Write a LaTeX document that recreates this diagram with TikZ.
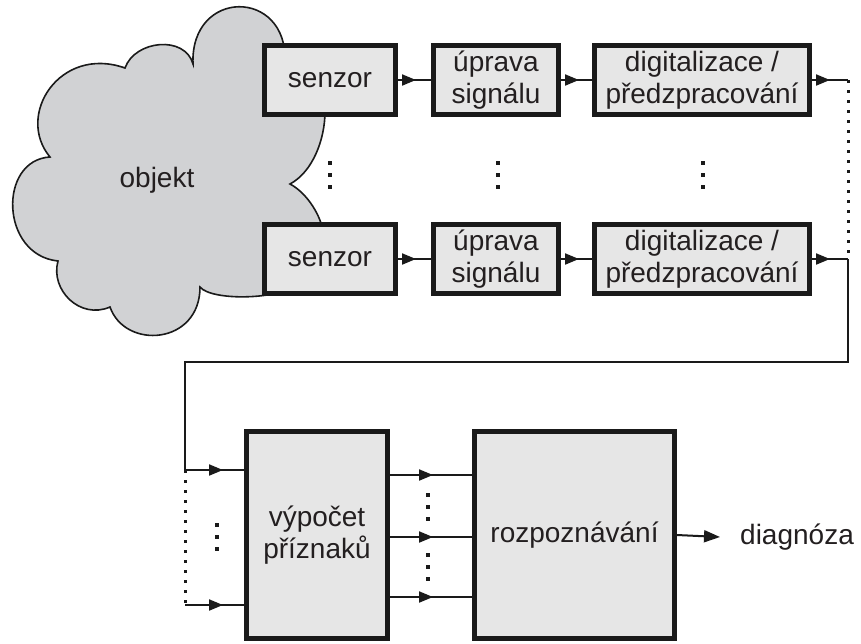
\documentclass[tikz,border=0pt]{standalone}
\usepackage{fontspec}
\setmainfont{Liberation Sans}
\usetikzlibrary{arrows.meta,decorations.markings}
\definecolor{boxfill}{HTML}{E6E6E6}
\definecolor{cloudfill}{HTML}{D1D2D4}
\definecolor{txt}{HTML}{231F20}
\definecolor{ink}{HTML}{1A1A1A}
\begin{document}
\begin{tikzpicture}[x=1pt,y=-1pt,
  blk/.style={draw=ink, line width=4.8pt, fill=boxfill, text=txt, align=center, inner sep=0pt,
    font=\fontsize{28}{32}\selectfont},
  lbl/.style={text=txt, inner sep=0pt, font=\fontsize{28}{32}\selectfont},
  wire/.style={line width=2pt, draw=ink},
  conn/.style={wire, postaction={decorate}, decoration={markings,
    mark=at position #1 with {\arrow{Triangle[length=14pt,width=11pt]}}}},
  dotline/.style={draw=ink, line width=3pt, dash pattern=on 3pt off 7pt},
  ellip/.style={draw=ink, line width=4pt, dash pattern=on 4pt off 8pt},
]
\useasboundingbox (0,0) rectangle (861,643);

% cloud
\filldraw[fill=cloudfill, draw=ink, line width=1.6pt]
  (193,64) .. controls (190,-12) and (288,-12) .. (285,62)
  .. controls (340,55) and (335,160) .. (290,184)
  .. controls (320,200) and (345,260) .. (300,280)
  .. controls (290,300) and (212,302) .. (200,287)
  .. controls (200,345) and (125,350) .. (110,307)
  .. controls (80,320) and (50,290) .. (58,261)
  .. controls (0,255) and (-2,160) .. (50,157)
  .. controls (15,115) and (60,45) .. (125,68)
  .. controls (135,40) and (185,35) .. (193,64) -- cycle;
\node[lbl] (obj) at (157,180) {objekt};

% top row
\node[blk, minimum width=131.2pt, minimum height=69.2pt] (s1) at (330,80) {senzor};
\node[blk, minimum width=125.2pt, minimum height=69.2pt] (u1) at (496,80) {úprava\\signálu};
\node[blk, minimum width=215.2pt, minimum height=69.2pt] (d1) at (702,80) {digitalizace /\\předzpracování};
% bottom row
\node[blk, minimum width=131.2pt, minimum height=69.2pt] (s2) at (330,259) {senzor};
\node[blk, minimum width=125.2pt, minimum height=69.2pt] (u2) at (496,259) {úprava\\signálu};
\node[blk, minimum width=215.2pt, minimum height=69.2pt] (d2) at (702,259) {digitalizace /\\předzpracování};

\draw[conn=18pt] (s1.east) -- (u1.west);
\draw[conn=18pt] (u1.east) -- (d1.west);
\draw[conn=18pt] (s2.east) -- (u2.west);
\draw[conn=18pt] (u2.east) -- (d2.west);

\draw[ellip] (330,161) -- (330,191);
\draw[ellip] (498,161) -- (498,191);
\draw[ellip] (703,161) -- (703,191);

% right side and return line
\coordinate (r1) at (848,80);
\coordinate (r2) at (848,259);
\coordinate (k1) at (848,362);
\coordinate (k2) at (185,362);
\coordinate (in1) at (185,470);
\coordinate (in2) at (185,605);
\draw[conn=18pt] (d1.east) -- (r1);
\draw[conn=18pt] (d2.east) -- (r2);
\draw[dotline] (r1) -- (r2);
\draw[wire] (r2) -- (k1) -- (k2) -- (in1);
\draw[dotline] (in1) -- (in2);

% bottom blocks
\node[blk, minimum width=141.2pt, minimum height=207.2pt] (v) at (317,535) {výpočet\\příznaků};
\node[blk, minimum width=200.2pt, minimum height=207.2pt] (rz) at (574.5,535) {rozpoznávání};

\draw[conn=38pt] (in1) -- (in1 -| v.west);
\draw[conn=38pt] (in2) -- (in2 -| v.west);
\draw[ellip] (217,523) -- (217,553);

\coordinate (o1) at (390,475);
\coordinate (o2) at (390,537);
\coordinate (o3) at (390,597);
\draw[conn=43pt] (o1 -| v.east) -- (o1 -| rz.west);
\draw[conn=43pt] (o2 -| v.east) -- (o2 -| rz.west);
\draw[conn=43pt] (o3 -| v.east) -- (o3 -| rz.west);
\draw[ellip] (428,493) -- (428,521);
\draw[ellip] (428,553) -- (428,581);

\node[lbl, anchor=west, inner xsep=20pt] (dg) at (720,537) {diagnóza};
\draw[wire, -{Triangle[length=16pt,width=12pt]}] (rz.east) -- (dg.west);
\end{tikzpicture}
\end{document}
